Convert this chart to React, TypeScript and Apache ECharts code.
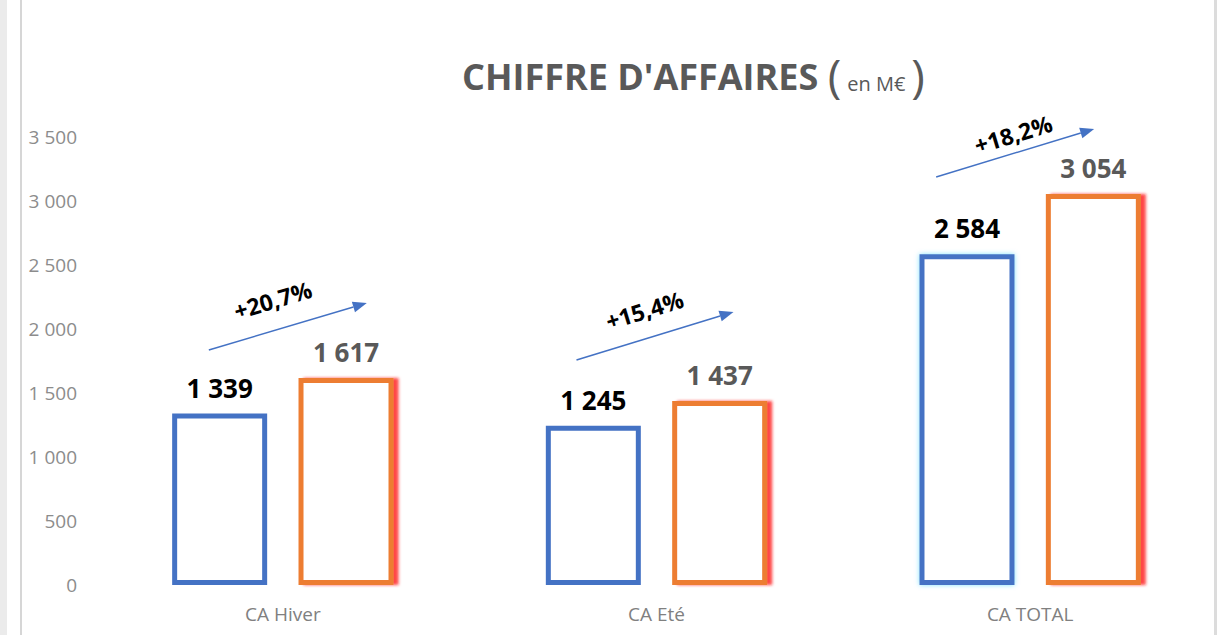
import React, { useEffect, useRef } from "react";
import * as echarts from "echarts";

const categories = ["CA Hiver", "CA Eté", "CA TOTAL"];
const previousValues = [1339, 1245, 2584];
const currentValues = [1617, 1437, 3054];
const growthLabels = ["+20,7%", "+15,4%", "+18,2%"];
// arrow anchors in data units (y), drawn through the value axis
const arrowStartValues = [1836, 1758, 3188];
const arrowEndValues = [2203, 2133, 3563];
const growthLabelValues = [2227, 2148, 3523];

// layout offsets (pixels from category centre)
const arrowStartDx = [-74, -80, -94];
const arrowEndDx = [84, 77, 64];
const growthLabelDx = [-10, -12, -17];

const fmt = (v: number) => String(v).replace(/\B(?=(\d{3})+(?!\d))/g, " ");

const FONT = "'Open Sans', 'Noto Sans', sans-serif";
const BLUE = "#4472C4";
const ORANGE = "#ED7D31";

export default function App() {
  const ref = useRef<HTMLDivElement>(null);
  useEffect(() => {
    if (!ref.current) return;
    const chart = echarts.init(ref.current, undefined, { renderer: "svg" });
    const option: any = {
      animation: false,
      backgroundColor: "#ffffff",
      title: {
        text: "{a|CHIFFRE D'AFFAIRES }{p|(}{b|en M€}{p|)}",
        left: 457,
        top: 33,
        textStyle: {
          rich: {
            a: { fontFamily: FONT, fontWeight: "bold", fontSize: 36, color: "#595959", lineHeight: 49, verticalAlign: "bottom" },
            p: { fontFamily: FONT, fontWeight: "normal", fontSize: 46, color: "#595959", lineHeight: 56, verticalAlign: "bottom", padding: [0, 0, -4, 0] },
            b: { fontFamily: FONT, fontWeight: "normal", fontSize: 20, color: "#595959", lineHeight: 28, verticalAlign: "bottom", padding: [0, 6, 1, 6] },
          },
        },
      },
      grid: { left: 96, right: 2, top: 137, bottom: 50, containLabel: false },
      xAxis: {
        type: "category",
        data: categories,
        axisLine: { show: false },
        axisTick: { show: false },
        axisLabel: { fontFamily: FONT, fontSize: 19, color: "#808080", margin: 19 },
      },
      yAxis: {
        type: "value",
        min: 0,
        max: 3500,
        interval: 500,
        splitLine: { show: false },
        axisLine: { show: false },
        axisTick: { show: false },
        axisLabel: { fontFamily: FONT, fontSize: 19, color: "#8c8c8c", margin: 19, formatter: (v: number) => fmt(v) },
      },
      series: [
        {
          type: "bar",
          name: "N-1",
          barWidth: 95,
          barGap: "33%",
          data: previousValues.map((v, i) => ({
            value: v,
            itemStyle: i === 2
              ? { color: "#ffffff", borderColor: BLUE, borderWidth: 5, shadowColor: "rgba(0,200,255,0.5)", shadowBlur: 5, shadowOffsetX: 0 }
              : { color: "#ffffff", borderColor: BLUE, borderWidth: 5 },
          })),
          label: {
            show: true,
            position: "top",
            distance: 13,
            fontFamily: FONT,
            fontWeight: "bold",
            fontSize: 26,
            color: "#000000",
            formatter: (p: any) => fmt(p.value),
          },
        },
        {
          type: "bar",
          name: "N",
          barWidth: 95,
          barGap: "33%",
          data: currentValues.map((v) => ({
            value: v,
            itemStyle: { color: "#ffffff", borderColor: ORANGE, borderWidth: 5, shadowColor: "rgba(255,20,20,0.8)", shadowBlur: 3, shadowOffsetX: 5 },
          })),
          label: {
            show: true,
            position: "top",
            distance: 13,
            fontFamily: FONT,
            fontWeight: "bold",
            fontSize: 26,
            color: "#595959",
            formatter: (p: any) => fmt(p.value),
          },
        },
      ],
    };
    chart.setOption(option);

    const graphics: any[] = [
      { type: "rect", shape: { x: 0, y: 0, width: 7, height: 635 }, style: { fill: "#ebebeb" }, silent: true },
      { type: "rect", shape: { x: 20, y: 0, width: 2, height: 635 }, style: { fill: "#d6d6d6" }, silent: true },
      { type: "rect", shape: { x: 1214, y: 0, width: 3, height: 635 }, style: { fill: "#dcdcdc" }, silent: true },
    ];
    categories.forEach((cat, i) => {
      const c0 = chart.convertToPixel({ xAxisIndex: 0, yAxisIndex: 0 }, [i, arrowStartValues[i]]) as number[];
      const c1 = chart.convertToPixel({ xAxisIndex: 0, yAxisIndex: 0 }, [i, arrowEndValues[i]]) as number[];
      const cl = chart.convertToPixel({ xAxisIndex: 0, yAxisIndex: 0 }, [i, growthLabelValues[i]]) as number[];
      const x1 = c0[0] + arrowStartDx[i];
      const y1 = c0[1];
      const x2 = c1[0] + arrowEndDx[i];
      const y2 = c1[1];
      const len = Math.hypot(x2 - x1, y2 - y1);
      const ux = (x2 - x1) / len;
      const uy = (y2 - y1) / len;
      const headL = 14;
      const headW = 5.5;
      const bx = x2 - ux * headL;
      const by = y2 - uy * headL;
      graphics.push({
        type: "line",
        shape: { x1, y1, x2: bx, y2: by },
        style: { stroke: BLUE, lineWidth: 1.5 },
        silent: true,
      });
      graphics.push({
        type: "polygon",
        shape: { points: [[x2, y2], [bx - uy * headW, by + ux * headW], [bx + uy * headW, by - ux * headW]] },
        style: { fill: BLUE },
        silent: true,
      });
      const angle = Math.atan2(-(y2 - y1), x2 - x1);
      graphics.push({
        type: "text",
        x: cl[0] + growthLabelDx[i],
        y: cl[1],
        rotation: angle,
        style: {
          text: growthLabels[i],
          fontFamily: FONT,
          fontWeight: "bold",
          fontSize: 23,
          fill: "#000000",
          align: "center",
          verticalAlign: "middle",
        },
        silent: true,
      });
    });
    chart.setOption({ graphic: graphics });

    return () => chart.dispose();
  }, []);
  return <div ref={ref} style={{ position: "fixed", left: 0, top: 0, width: 1219, height: 635 }} />;
}
